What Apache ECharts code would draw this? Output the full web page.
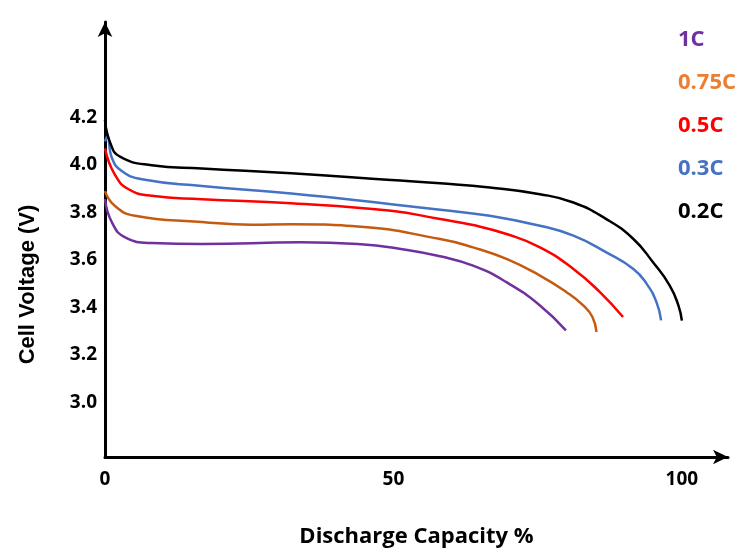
<!DOCTYPE html>
<html>
<head>
<meta charset="utf-8">
<script src="https://cdn.jsdelivr.net/npm/echarts@6/dist/echarts.min.js"></script>
<style>
html,body{margin:0;padding:0;background:#fff;}
#chart{width:747px;height:553px;}
</style>
</head>
<body>
<div id="chart"></div>
<script>
// Series names
const seriesNames = ['1C', '0.75C', '0.5C', '0.3C', '0.2C'];
// Discharge capacity (%) and cell voltage (V) per series
const cap1C   = [0, 1.2, 3.5, 8.1, 16.8, 34, 43.8, 52.4, 58.1, 63.8, 69.6, 75.4, 79.9];
const volt1C  = [3.856, 3.758, 3.695, 3.671, 3.667, 3.674, 3.667, 3.642, 3.615, 3.576, 3.506, 3.408, 3.303];
const cap075C  = [0, 1.7, 5.2, 16.8, 25.4, 32.3, 43.8, 58.1, 63.8, 69.6, 75.4, 80, 82.9, 84.5, 85.2];
const volt075C = [3.89, 3.828, 3.786, 3.76, 3.748, 3.75, 3.741, 3.688, 3.653, 3.604, 3.534, 3.464, 3.408, 3.359, 3.296];
const cap05C  = [0, 1.7, 4.1, 8.1, 16.8, 32.3, 49.6, 58.1, 63.8, 69.6, 75.4, 81.2, 85.8, 89.8];
const volt05C = [4.07, 3.96, 3.898, 3.87, 3.856, 3.839, 3.807, 3.772, 3.747, 3.709, 3.653, 3.562, 3.464, 3.359];
const cap03C  = [0, 0.4, 1.2, 2.9, 6.4, 16.8, 32.3, 49.6, 58.1, 66.7, 75.4, 81.2, 86.9, 91.6, 93.9, 95.6, 96.4];
const volt03C = [4.10, 4.12, 4.03, 3.975, 3.94, 3.912, 3.88, 3.835, 3.811, 3.786, 3.744, 3.702, 3.632, 3.562, 3.499, 3.422, 3.345];
const cap02C  = [0, 0.9, 2.6, 8.1, 16.8, 32.3, 49.6, 58.1, 66.7, 75.4, 81.2, 86.9, 91.6, 95, 97.9, 99.4, 100];
const volt02C = [4.19, 4.094, 4.035, 3.999, 3.985, 3.965, 3.937, 3.923, 3.905, 3.877, 3.842, 3.772, 3.688, 3.59, 3.492, 3.408, 3.344];
// Tick labels
const xTickValues = [0, 50, 100];
const yTickValues = [3.0, 3.2, 3.4, 3.6, 3.8, 4.0, 4.2];

const lineColors = ['#7030A0', '#C55A11', '#FF0000', '#4472C4', '#000000'];
const legendColors = ['#7030A0', '#ED7D31', '#FF0000', '#4472C4', '#000000'];
const caps = [cap1C, cap075C, cap05C, cap03C, cap02C];
const volts = [volt1C, volt075C, volt05C, volt03C, volt02C];

const FONT = '"Open Sans", "Noto Sans", sans-serif';

const chart = echarts.init(document.getElementById('chart'));
chart.setOption({
  animation: false,
  backgroundColor: '#ffffff',
  grid: { left: 105, right: 19, top: 22, bottom: 94, containLabel: false },
  legend: {
    orient: 'vertical',
    left: 668,
    top: 23,
    icon: 'none',
    itemWidth: 0,
    itemHeight: 0,
    itemGap: 19,
    selectedMode: false,
    textStyle: { fontFamily: FONT, fontSize: 22, fontWeight: 'bold', lineHeight: 24 },
    data: seriesNames.map((n, i) => ({ name: n, textStyle: { color: legendColors[i] } }))
  },
  xAxis: {
    type: 'value',
    min: 0,
    max: 108,
    name: 'Discharge Capacity %',
    nameLocation: 'middle',
    nameGap: 69,
    nameTextStyle: { fontFamily: FONT, fontSize: 22, fontWeight: 'bold', color: '#000' },
    axisLine: { show: true, symbol: ['none', 'arrow'], symbolSize: [11, 15], lineStyle: { color: '#000', width: 3 } },
    axisTick: { show: false },
    splitLine: { show: false },
    axisLabel: {
      customValues: xTickValues,
      margin: 13,
      color: '#000',
      fontFamily: FONT, fontSize: 19, fontWeight: 'bold'
    }
  },
  yAxis: {
    type: 'value',
    min: 2.769,
    max: 4.603,
    name: 'Cell Voltage (V)',
    nameLocation: 'middle',
    nameRotate: 90,
    nameGap: 66,
    nameTextStyle: { fontFamily: '"Liberation Sans", Arial, sans-serif', fontSize: 22, fontWeight: 'bold', color: '#000', padding: [0, 90, 0, 0] },
    axisLine: { show: true, symbol: ['none', 'arrow'], symbolSize: [11, 15], lineStyle: { color: '#000', width: 3 } },
    axisTick: { show: false },
    splitLine: { show: false },
    axisLabel: {
      customValues: yTickValues,
      margin: 8,
      color: '#000',
      fontFamily: FONT, fontSize: 19, fontWeight: 'bold',
      formatter: v => v.toFixed(1)
    }
  },
  series: seriesNames.map((n, i) => ({
    name: n,
    type: 'line',
    smooth: 0.5,
    showSymbol: false,
    symbol: 'none',
    color: lineColors[i],
    lineStyle: { color: lineColors[i], width: 2.5 },
    data: caps[i].map((c, j) => [c, volts[i][j]])
  }))
});
</script>
</body>
</html>
